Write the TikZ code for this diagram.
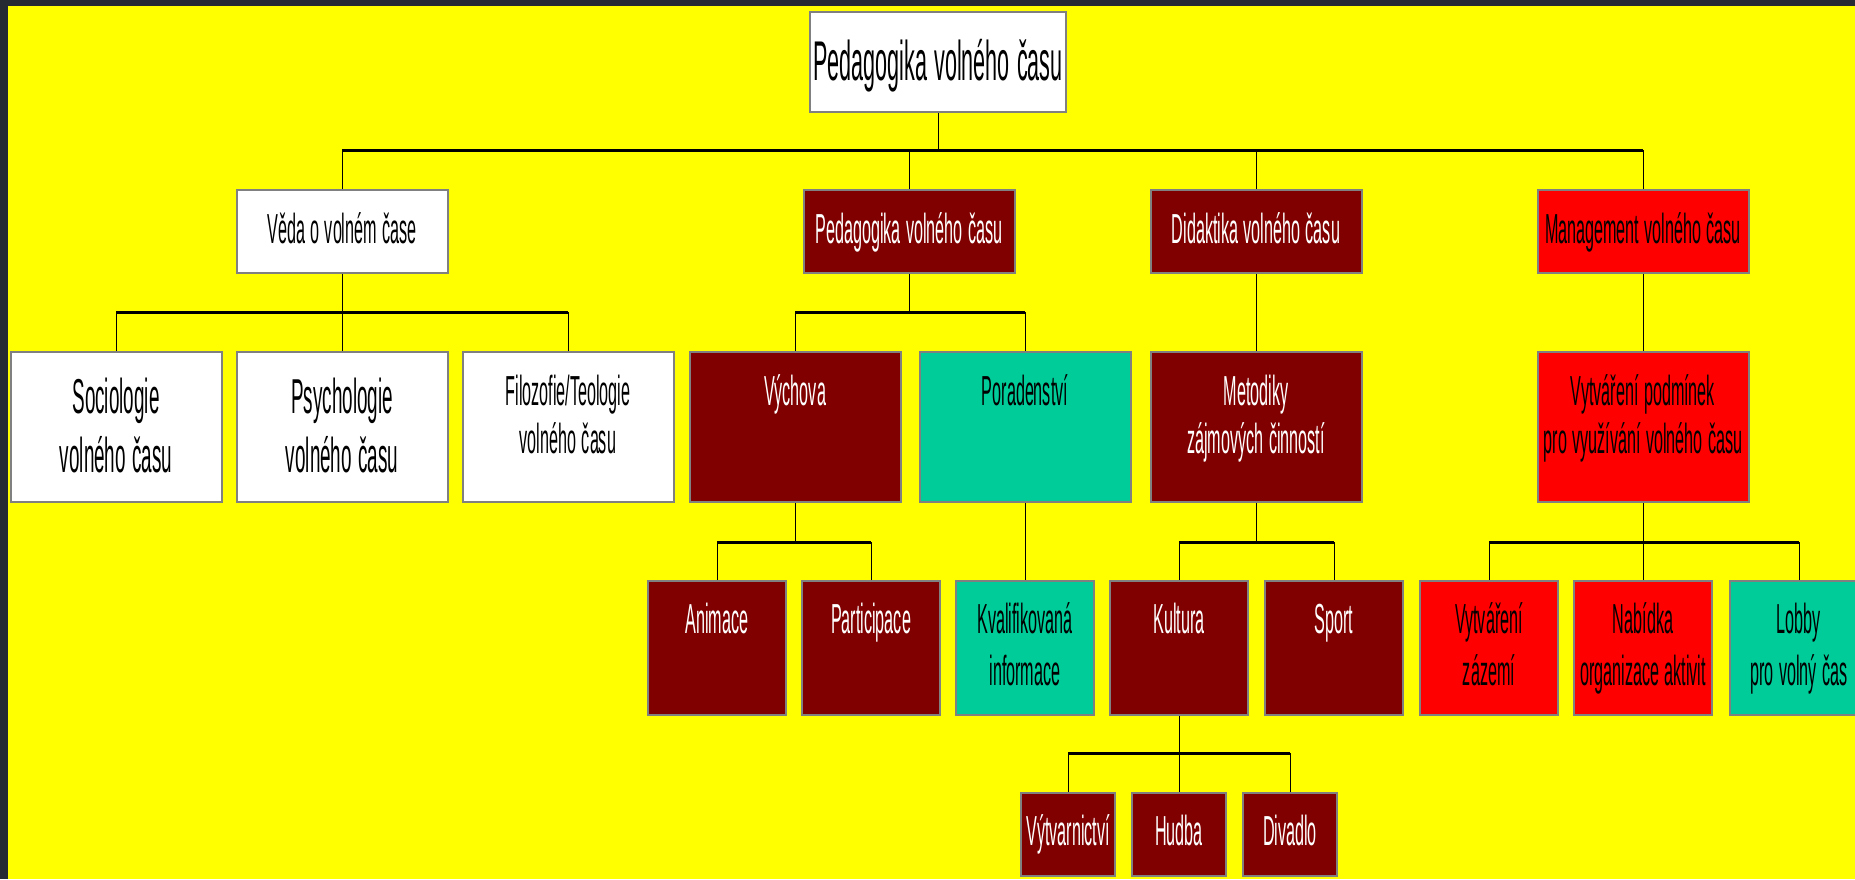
\documentclass[tikz,border=0pt]{standalone}
\usepackage{fontspec}
\usepackage{graphicx}
\setmainfont{Liberation Sans}
\usetikzlibrary{positioning}
\definecolor{maro}{HTML}{800000}
\definecolor{gren}{HTML}{00CC99}
\definecolor{yell}{HTML}{FFFF00}
\definecolor{back}{HTML}{262B33}
\newcommand\sq[1]{\scalebox{0.385}[1]{#1}}

\begin{document}
\begin{tikzpicture}[x=1pt,y=-1pt,
	bx/.style={draw=gray,line width=2pt,inner sep=0pt,align=center,
	font=\fontsize{42}{48}\selectfont},
	whit/.style={bx,fill=white,text=black},
	brwn/.style={bx,fill=maro,text=white},
	redd/.style={bx,fill=red,text=black},
	grn/.style={bx,fill=gren,text=black},
	lvone/.style={text width=211pt,text height=53pt,text depth=30pt},
	lvtwo/.style={text width=211pt,text height=53pt,text depth=97pt},
	lvbig/.style={text height=61pt,text depth=89pt,font=\fontsize{49}{59}\selectfont},
	lvthree/.style={text width=138pt,text height=52pt,text depth=82pt,
	font=\fontsize{42}{52}\selectfont},
	lvfour/.style={text width=94pt,text height=52pt,text depth=31pt},
	hbar/.style={line width=3pt},
	stem/.style={line width=1pt}]
\useasboundingbox (0,0) rectangle (1855,879);
\fill[back] (0,0) rectangle (1855,879);
\fill[yell] (8,6) rectangle (1855,879);

\node [whit,text width=256pt,text height=68pt,text depth=32pt,
	font=\fontsize{56}{64}\selectfont] (0) at (938,62) {\sq{Pedagogika volného času}};

\node [whit,lvone] (1) at (342,231.5) {\sq{Věda o volném čase}};
\node [brwn,lvone] (2) at (909,231.5) {\sq{Pedagogika volného času}};
\node [brwn,lvone] (3) at (1256,231.5) {\sq{Didaktika volného času}};
\node [redd,lvone] (4) at (1643,231.5) {\sq{Management volného času}};

\node [whit,lvtwo,lvbig] (11) at (116,427) {\sq{Sociologie}\\\sq{volného času}};
\node [whit,lvtwo,lvbig] (12) at (342,427) {\sq{Psychologie}\\\sq{volného času}};
\node [whit,lvtwo] (13) at (568,427) {\sq{Filozofie/Teologie}\\\sq{volného času}};
\node [brwn,lvtwo] (21) at (795,427) {\sq{Výchova}};
\node [grn,lvtwo] (22) at (1025,427) {\sq{Poradenství}};
\node [brwn,lvtwo] (31) at (1256,427) {\sq{Metodiky}\\\sq{zájmových činností}};
\node [redd,lvtwo] (41) at (1643,427) {\sq{Vytváření podmínek}\\\sq{pro využívání volného času}};

\node [brwn,lvthree] (211) at (717,648) {\sq{Animace}};
\node [brwn,lvthree] (212) at (871,648) {\sq{Participace}};
\node [grn,lvthree] (221) at (1025,648) {\sq{Kvalifikovaná}\\\sq{informace}};
\node [brwn,lvthree] (311) at (1179,648) {\sq{Kultura}};
\node [brwn,lvthree] (312) at (1334,648) {\sq{Sport}};
\node [redd,lvthree] (411) at (1489,648) {\sq{Vytváření}\\\sq{zázemí}};
\node [redd,lvthree] (412) at (1643,648) {\sq{Nabídka}\\\sq{organizace aktivit}};
\node [grn,lvthree] (413) at (1799,648) {\sq{Lobby}\\\sq{pro volný čas}};

\node [brwn,lvfour] (3111) at (1068,834.5) {\sq{Výtvarnictví}};
\node [brwn,lvfour] (3112) at (1179,834.5) {\sq{Hudba}};
\node [brwn,lvfour] (3113) at (1290,834.5) {\sq{Divadlo}};

\coordinate (j0) at (0,150);
\coordinate (j1) at (0,312);
\coordinate (j2) at (0,542);
\coordinate (j3) at (0,753);

\draw[stem] (0) -- (0 |- j0);
\draw[hbar] (1 |- j0) -- (4 |- j0);
\foreach \n in {1,2,3,4} \draw[stem] (\n) -- (\n |- j0);

\draw[stem] (1) -- (1 |- j1);
\draw[hbar] (11 |- j1) -- (13 |- j1);
\foreach \n in {11,12,13} \draw[stem] (\n) -- (\n |- j1);
\draw[stem] (2) -- (2 |- j1);
\draw[hbar] (21 |- j1) -- (22 |- j1);
\foreach \n in {21,22} \draw[stem] (\n) -- (\n |- j1);
\draw[stem] (3) -- (31);
\draw[stem] (4) -- (41);

\draw[stem] (21) -- (21 |- j2);
\draw[hbar] (211 |- j2) -- (212 |- j2);
\foreach \n in {211,212} \draw[stem] (\n) -- (\n |- j2);
\draw[stem] (22) -- (221);
\draw[stem] (31) -- (31 |- j2);
\draw[hbar] (311 |- j2) -- (312 |- j2);
\foreach \n in {311,312} \draw[stem] (\n) -- (\n |- j2);
\draw[stem] (41) -- (41 |- j2);
\draw[hbar] (411 |- j2) -- (413 |- j2);
\foreach \n in {411,412,413} \draw[stem] (\n) -- (\n |- j2);

\draw[stem] (311) -- (311 |- j3);
\draw[hbar] (3111 |- j3) -- (3113 |- j3);
\foreach \n in {3111,3112,3113} \draw[stem] (\n) -- (\n |- j3);
\end{tikzpicture}
\end{document}
